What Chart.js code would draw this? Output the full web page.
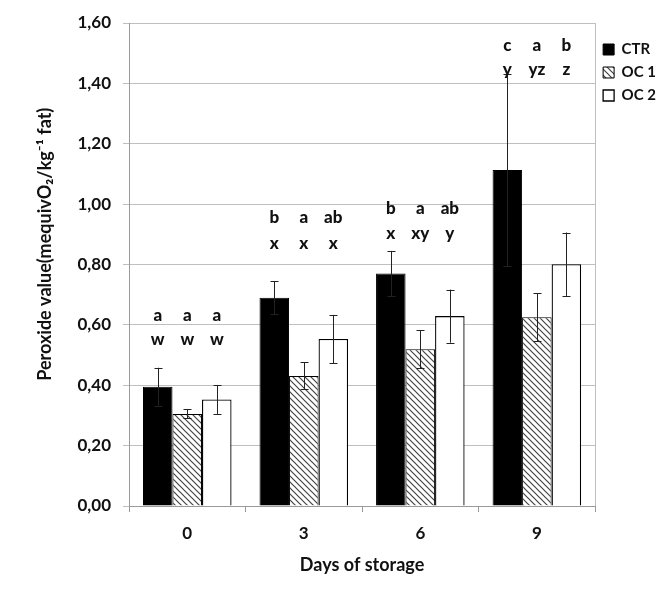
<!DOCTYPE html>
<html>
<head>
<meta charset="utf-8">
<script src="https://cdn.jsdelivr.net/npm/chart.js@4.4.1/dist/chart.umd.min.js"></script>
<style>
  html, body { margin: 0; padding: 0; background: #fff; }
  #wrap { width: 672px; height: 597px; }
</style>
</head>
<body>
<div id="wrap"><canvas id="peroxideChart"></canvas></div>
<script>
const days = ['0', '3', '6', '9'];
const ctr = [0.395, 0.69, 0.77, 1.113];
const oc1 = [0.305, 0.431, 0.519, 0.625];
const oc2 = [0.353, 0.553, 0.629, 0.801];
const ctrErr = [0.063, 0.055, 0.075, 0.318];
const oc1Err = [0.015, 0.045, 0.063, 0.08];
const oc2Err = [0.048, 0.08, 0.088, 0.105];

// significance letters: top row (between treatments), bottom row (between days)
const ctrTop = ['a', 'b', 'b', 'c'];
const oc1Top = ['a', 'a', 'a', 'a'];
const oc2Top = ['a', 'ab', 'ab', 'b'];
const ctrBottom = ['w', 'x', 'x', 'y'];
const oc1Bottom = ['w', 'x', 'xy', 'yz'];
const oc2Bottom = ['w', 'x', 'y', 'z'];
const topLevel = [0.632, 0.954, 0.987, 1.526];
const bottomLevel = [0.55, 0.871, 0.904, 1.447];

const FONT = 'Lato, "Open Sans", sans-serif';

// hatch for OC 1
function makeHatch() {
  const c = document.createElement('canvas');
  c.width = 6; c.height = 6;
  const g = c.getContext('2d');
  g.fillStyle = '#fff';
  g.fillRect(0, 0, 6, 6);
  g.strokeStyle = '#444';
  g.lineWidth = 1.2;
  g.beginPath();
  g.moveTo(-1, -1); g.lineTo(7, 7);
  g.moveTo(-4, 2); g.lineTo(4, 10);
  g.moveTo(2, -4); g.lineTo(10, 4);
  g.stroke();
  return g.createPattern(c, 'repeat');
}

const errors = [ctrErr, oc1Err, oc2Err];
const tops = [ctrTop, oc1Top, oc2Top];
const bottoms = [ctrBottom, oc1Bottom, oc2Bottom];

const extras = {
  id: 'extras',
  afterDatasetsDraw(chart) {
    const ctx = chart.ctx;
    const y = chart.scales.y;
    const area = chart.chartArea;
    ctx.save();
    // right border of plot area
    ctx.strokeStyle = '#bfbfbf';
    ctx.lineWidth = 1;
    ctx.beginPath();
    ctx.moveTo(Math.round(area.right) + 0.5, area.top);
    ctx.lineTo(Math.round(area.right) + 0.5, area.bottom);
    ctx.stroke();

    // error bars
    ctx.strokeStyle = '#222';
    chart.data.datasets.forEach((ds, i) => {
      const meta = chart.getDatasetMeta(i);
      meta.data.forEach((bar, j) => {
        const v = ds.data[j];
        const e = errors[i][j];
        const x = Math.round(bar.x) + 0.5;
        const yt = y.getPixelForValue(v + e);
        const yb = y.getPixelForValue(v - e);
        ctx.beginPath();
        ctx.moveTo(x, yt); ctx.lineTo(x, yb);
        ctx.moveTo(x - 4, Math.round(yt) + 0.5); ctx.lineTo(x + 4, Math.round(yt) + 0.5);
        ctx.moveTo(x - 4, Math.round(yb) + 0.5); ctx.lineTo(x + 4, Math.round(yb) + 0.5);
        ctx.stroke();
      });
    });

    // letters
    ctx.fillStyle = '#111';
    ctx.font = '900 17px ' + FONT;
    ctx.textAlign = 'center';
    ctx.textBaseline = 'middle';
    chart.data.datasets.forEach((ds, i) => {
      const meta = chart.getDatasetMeta(i);
      meta.data.forEach((bar, j) => {
        ctx.fillText(tops[i][j], bar.x, y.getPixelForValue(topLevel[j]));
        ctx.fillText(bottoms[i][j], bar.x, y.getPixelForValue(bottomLevel[j]));
      });
    });
    ctx.restore();
  }
};

const hatch = makeHatch();

new Chart(document.getElementById('peroxideChart'), {
  type: 'bar',
  data: {
    labels: days,
    datasets: [
      { label: 'CTR', data: ctr, backgroundColor: '#000', borderColor: '#000', borderWidth: 1 },
      { label: 'OC 1', data: oc1, backgroundColor: hatch, borderColor: '#000', borderWidth: 1 },
      { label: 'OC 2', data: oc2, backgroundColor: '#fff', borderColor: '#000', borderWidth: 1.3 }
    ]
  },
  options: {
    responsive: true,
    maintainAspectRatio: false,
    animation: false,
    datasets: { bar: { barPercentage: 1, categoryPercentage: 0.76 } },
    layout: { padding: { top: 23, left: 0, right: 6, bottom: 0 } },
    plugins: {
      tooltip: { enabled: false },
      legend: {
        position: 'right',
        align: 'start',
        title: { display: true, text: '', font: { size: 5 }, padding: { top: 0, bottom: 5 } },
        labels: {
          boxWidth: 11,
          boxHeight: 11,
          padding: 8,
          color: '#111',
          font: { family: FONT, size: 15, weight: 'bold' }
        }
      }
    },
    scales: {
      x: {
        afterFit: s => { s.height = 91; },
        grid: { drawOnChartArea: false, drawTicks: true, tickLength: 6, color: '#9a9a9a' },
        border: { color: '#9a9a9a' },
        ticks: { color: '#111', font: { family: FONT, size: 17, weight: 'bold' }, padding: 11 },
        title: { display: true, text: 'Days of storage', color: '#111', font: { family: FONT, size: 18, weight: 'bold' }, padding: { top: 0, bottom: 21 } }
      },
      y: {
        min: 0,
        max: 1.6,
        afterFit: s => { s.width = 129; },
        ticks: {
          stepSize: 0.2,
          color: '#111',
          padding: 12,
          font: { family: FONT, size: 17, weight: 'bold' },
          callback: v => v.toFixed(2).replace('.', ',')
        },
        grid: { color: '#bfbfbf', tickLength: 6 },
        border: { color: '#9a9a9a' },
        title: {
          display: true,
          text: '\u2003\u2003\u2003Peroxide value(mequivO\u2082/kg\u207B\u00B9 fat)',
          color: '#111',
          font: { family: FONT, size: 18, weight: 'bold' },
          padding: { top: 34, bottom: 0 }
        }
      }
    }
  },
  plugins: [extras]
});
</script>
</body>
</html>
